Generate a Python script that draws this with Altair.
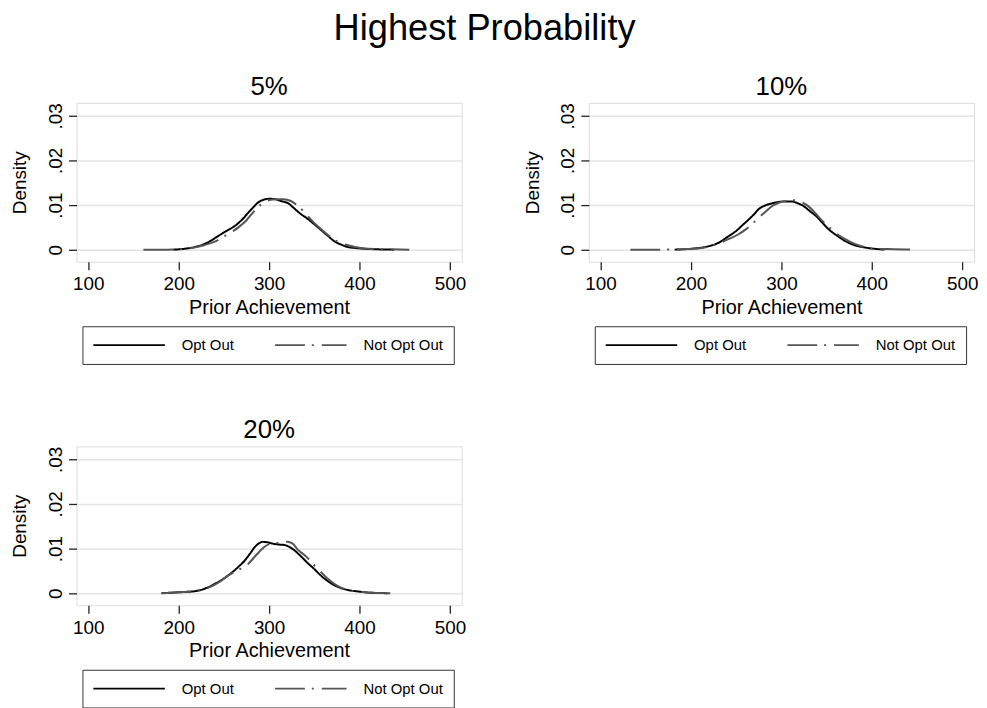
import altair as alt
import pandas as pd

FONT = "Liberation Sans"
SERIES = ["Opt Out", "Not Opt Out"]
PANEL_TITLES = ["5%", "10%", "20%"]
X_TICKS = [100, 200, 300, 400, 500]
Y_TICKS = [0, 0.01, 0.02, 0.03]

# ---- 5% panel ----
p5_opt_x = [194, 210, 222, 233, 244, 253, 262, 270, 277, 283, 288, 294, 300, 307, 313,
            321, 328, 335, 342, 350, 358, 365, 372, 380, 387, 394, 405, 416, 438]
p5_opt_y = [0, 0.0003, 0.0008, 0.0017, 0.0031, 0.0042, 0.0053, 0.0067, 0.0083, 0.0096,
            0.0106, 0.0112, 0.0114, 0.0113, 0.0109, 0.0104, 0.0092, 0.0080, 0.0070, 0.0057,
            0.0043, 0.0031, 0.0019, 0.0011, 0.0006, 0.0004, 0.0002, 0.0001, 0.0]
p5_not_x = [161, 180, 200, 215, 228, 240, 253, 266, 275, 282, 291, 300, 308, 316, 324,
            330, 338, 346, 355, 365, 375, 385, 395, 410, 430, 455]
p5_not_y = [0, 0, 0.0001, 0.0004, 0.0010, 0.0018, 0.0033, 0.0050, 0.0066, 0.0083, 0.0101,
            0.0111, 0.0113, 0.0113, 0.0109, 0.0101, 0.0086, 0.0068, 0.0050, 0.0033, 0.0019,
            0.0011, 0.0006, 0.0002, 0.0001, 0]

# ---- 10% panel ----
p10_opt_x = [182, 200, 213, 222, 231, 240, 250, 257, 264, 270, 275, 282, 290, 297, 304,
             311, 318, 325, 331, 338, 345, 352, 361, 370, 381, 392, 403, 414]
p10_opt_y = [0, 0.0002, 0.0005, 0.0009, 0.0016, 0.0028, 0.0042, 0.0055, 0.0068, 0.0080,
             0.0091, 0.0099, 0.0104, 0.0107, 0.0108, 0.0108, 0.0104, 0.0097, 0.0087, 0.0076,
             0.0061, 0.0046, 0.0032, 0.0020, 0.0010, 0.0005, 0.0002, 0]
p10_not_x = [133, 160, 190, 210, 225, 242, 252, 261, 268, 275, 283, 290, 297, 305, 312,
             318, 323, 330, 337, 345, 352, 359, 370, 381, 392, 404, 425, 448]
p10_not_y = [0, 0, 0.0001, 0.0003, 0.0010, 0.0024, 0.0034, 0.0046, 0.0058, 0.0072, 0.0086,
             0.0098, 0.0105, 0.0109, 0.0111, 0.0110, 0.0106, 0.0097, 0.0083, 0.0065, 0.0052,
             0.0039, 0.0024, 0.0013, 0.0006, 0.0002, 0.0001, 0]

# ---- 20% panel ----
p20_opt_x = [181, 200, 218, 230, 240, 250, 258, 266, 273, 279, 284, 289, 293, 298, 304,
             311, 317, 323, 328, 335, 343, 350, 357, 365, 372, 380, 390, 398, 412, 431]
p20_opt_y = [0, 0.0002, 0.00045, 0.0011, 0.0021, 0.0033, 0.0045, 0.0059, 0.0073, 0.0089,
             0.0103, 0.0112, 0.0115, 0.0114, 0.0111, 0.0109, 0.0108, 0.0103, 0.0096, 0.0083,
             0.0067, 0.0054, 0.0040, 0.0027, 0.0018, 0.0011, 0.0006, 0.0004, 0.0001, 0]
p20_not_x = [181, 200, 218, 235, 245, 255, 266, 277, 286, 295, 300, 306, 313, 320, 326,
             332, 338, 343, 350, 357, 364, 372, 380, 390, 400, 415, 434]
p20_not_y = [0, 0.0002, 0.0005, 0.0014, 0.0025, 0.0040, 0.0052, 0.0066, 0.0086, 0.0104,
             0.0110, 0.0112, 0.0113, 0.0115, 0.0111, 0.0097, 0.0087, 0.0078, 0.0062, 0.0048,
             0.0034, 0.0021, 0.0012, 0.0006, 0.0003, 0.0001, 0]


def make_df(opt_x, opt_y, not_x, not_y):
    return pd.DataFrame({
        "x": opt_x + not_x,
        "y": opt_y + not_y,
        "group": [SERIES[0]] * len(opt_x) + [SERIES[1]] * len(not_x),
        "order": list(range(len(opt_x))) + list(range(len(not_x))),
    })


def panel(title, df):
    leg = alt.Legend(
        orient="none", legendX=6, legendY=225, direction="horizontal", columns=2,
        title=None, symbolType="stroke", symbolSize=5184, symbolStrokeWidth=1.6,
        clipHeight=18, labelFont=FONT, labelFontSize=15, labelColor="black",
        labelOffset=16, columnPadding=40, padding=10, strokeColor="#333333",
        fillColor="white", cornerRadius=0,
    )
    return alt.Chart(df, title=alt.Title(
        title, fontSize=26, font=FONT, fontWeight="normal", color="black", offset=3,
    )).mark_line(strokeWidth=2, interpolate="monotone").encode(
        x=alt.X("x:Q", scale=alt.Scale(domain=[87, 513], nice=False, zero=False),
                axis=alt.Axis(values=X_TICKS, title="Prior Achievement", grid=False,
                              domain=False, tickColor="#222", tickSize=8, tickWidth=1.3,
                              labelFont=FONT, labelFontSize=19, labelColor="black",
                              labelPadding=5, titleFont=FONT, titleFontSize=20,
                              titleFontWeight="normal", titleColor="black", titlePadding=4,
                              labelFlush=False)),
        y=alt.Y("y:Q", scale=alt.Scale(domain=[-0.0027, 0.0329], nice=False, zero=False),
                axis=alt.Axis(values=Y_TICKS, title="Density", grid=True,
                              gridColor="#e4e4e4", gridWidth=1.5, domain=False,
                              tickColor="#222", tickSize=8, tickWidth=1.3,
                              labelAngle=270, labelAlign="center", labelBaseline="bottom",
                              labelExpr="datum.value == 0 ? '0' : replace(format(datum.value, '.2f'), '0.', '.')",
                              labelFont=FONT, labelFontSize=19, labelColor="black",
                              labelPadding=3, titleFont=FONT, titleFontSize=19,
                              titleFontWeight="normal", titleColor="black", titlePadding=17)),
        color=alt.Color("group:N", scale=alt.Scale(domain=SERIES, range=["#000000", "#555555"]),
                        legend=leg),
        strokeDash=alt.StrokeDash("group:N", scale=alt.Scale(domain=SERIES, range=[[1, 0], [30, 7, 2, 8]]),
                                  legend=leg),
        order="order:Q",
    ).properties(width=388, height=160)


p1 = panel(PANEL_TITLES[0], make_df(p5_opt_x, p5_opt_y, p5_not_x, p5_not_y))
p2 = panel(PANEL_TITLES[1], make_df(p10_opt_x, p10_opt_y, p10_not_x, p10_not_y))
p3 = panel(PANEL_TITLES[2], make_df(p20_opt_x, p20_opt_y, p20_not_x, p20_not_y))

top = alt.hconcat(p1, p2, spacing=56).resolve_scale(
    color="independent", strokeDash="independent").resolve_legend(
    color="independent", strokeDash="independent")

chart = alt.vconcat(top, p3, spacing=52).resolve_scale(
    color="independent", strokeDash="independent").resolve_legend(
    color="independent", strokeDash="independent").properties(
    title=alt.Title("Highest Probability", fontSize=36.5, font=FONT, fontWeight="normal",
                    color="black", anchor="middle", offset=26, dx=-10),
    padding={"left": 2, "top": 0, "right": 0, "bottom": 0},
).configure_view(stroke="#222222", strokeWidth=1.5).configure(background="white")

chart.save("out.html", embed_options={"renderer": "svg", "actions": False})
